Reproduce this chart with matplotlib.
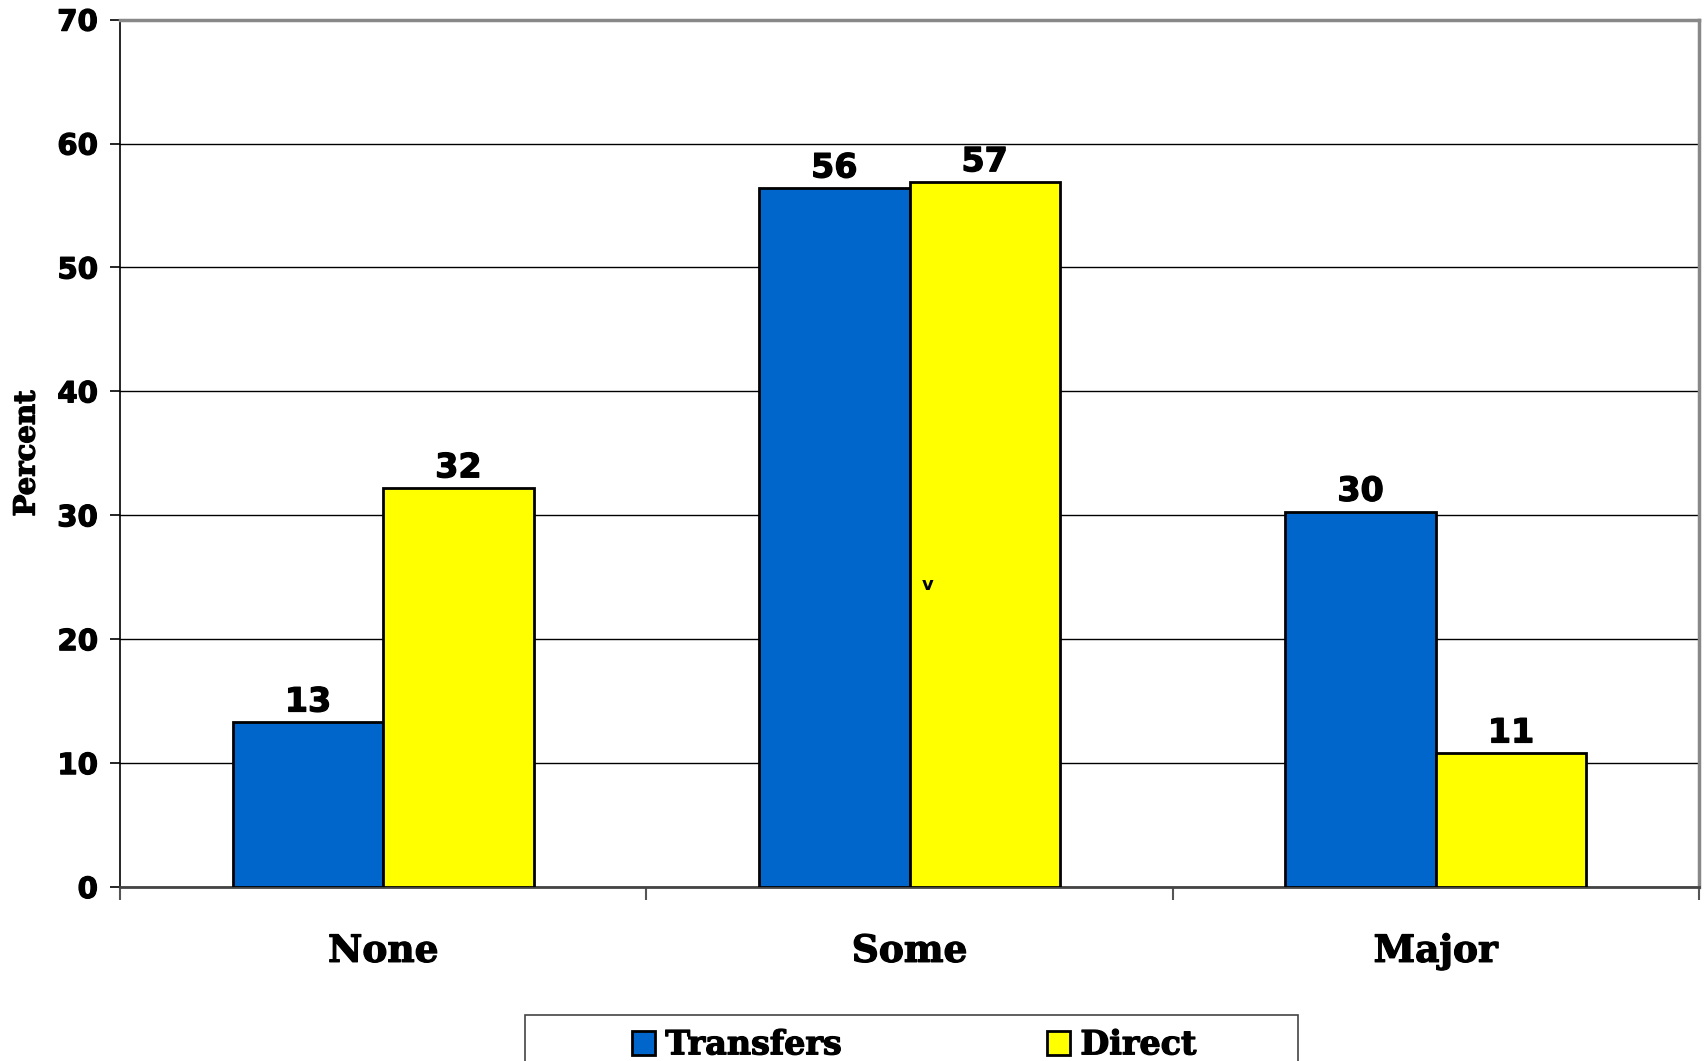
import matplotlib.pyplot as plt
import matplotlib.patheffects as pe
from matplotlib.patches import Patch, Rectangle
import numpy as np

categories = ['None', 'Some', 'Major']
transfers = [13.3, 56.4, 30.3]
direct = [32.2, 56.9, 10.8]
series_names = ['Transfers', 'Direct']
y_ticks = [0, 10, 20, 30, 40, 50, 60, 70]

blue = '#0066CC'
yellow = '#FFFF00'
heavy = [pe.withStroke(linewidth=0.9, foreground='black')]

fig = plt.figure(figsize=(17.08, 10.61), dpi=100)
ax = fig.add_axes([0.0703, 0.164, 0.9244, 0.8175])

x = np.arange(len(categories))
width = 1 / 3.5

bars_t = ax.bar(x - width / 2, transfers, width, color=blue, edgecolor='black', linewidth=2, zorder=3)
bars_d = ax.bar(x + width / 2, direct, width, color=yellow, edgecolor='black', linewidth=2, zorder=3)

# value labels above each bar
for bars, values in [(bars_t, transfers), (bars_d, direct)]:
    for b, v in zip(bars, values):
        ax.text(b.get_x() + b.get_width() / 2, v + 0.3, '%.0f' % v, ha='center', va='bottom',
                fontsize=24, fontweight='bold', family='DejaVu Sans', path_effects=heavy)

# stray mark visible in the original
ax.text(1.035, 24.4, 'v', ha='center', va='center', fontsize=13, fontweight='bold')

ax.set_xlim(-0.5, 2.5)
ax.set_ylim(0, 70)
ax.set_yticks(y_ticks)
ax.set_yticklabels([str(t) for t in y_ticks], fontsize=21, fontweight='bold', family='DejaVu Sans')
for t in ax.get_yticklabels():
    t.set_path_effects(heavy)
ax.tick_params(axis='y', direction='out', length=7, width=1.2, pad=9)

ax.set_xticks([-0.5, 0.5, 1.5, 2.5])
ax.set_xticklabels([])
ax.set_xticks(x, minor=True)
ax.set_xticklabels(categories, minor=True, fontsize=27, fontweight='bold', family='DejaVu Serif')
for t in ax.get_xticklabels(minor=True):
    t.set_path_effects(heavy)
ax.tick_params(axis='x', which='major', direction='out', length=9, width=1.5, color='#555555')
ax.tick_params(axis='x', which='minor', length=0, pad=33)

ax.grid(axis='y', color='black', linewidth=1, zorder=0)
ax.set_axisbelow(True)

ax.spines['left'].set_color('black')
ax.spines['left'].set_linewidth(1.2)
ax.spines['bottom'].set_color('#444444')
ax.spines['bottom'].set_linewidth(2)
ax.spines['top'].set_color('#888888')
ax.spines['top'].set_linewidth(2.5)
ax.spines['right'].set_color('#888888')
ax.spines['right'].set_linewidth(2.5)

ax.set_ylabel('Percent', fontsize=21, fontweight='bold', family='DejaVu Serif', labelpad=12,
              path_effects=heavy)

# legend box runs off the bottom edge, as in the original
fig.add_artist(Rectangle((0.3074, -0.02), 0.4526, 0.06336, transform=fig.transFigure,
                         fill=False, edgecolor='#444444', linewidth=1.2))

handles = [Patch(facecolor=blue, edgecolor='black', linewidth=2),
           Patch(facecolor=yellow, edgecolor='black', linewidth=2)]
leg = fig.legend(handles, series_names, loc='upper left', ncol=2,
                 bbox_to_anchor=(0.370, 0.0308),
                 prop={'family': 'DejaVu Serif', 'weight': 'bold', 'size': 24},
                 frameon=False, handlelength=0.7, handleheight=0.72, handletextpad=0.3,
                 columnspacing=6.15, borderpad=0, borderaxespad=0)
for t in leg.get_texts():
    t.set_path_effects(heavy)

fig.savefig('out.png', dpi=100)
